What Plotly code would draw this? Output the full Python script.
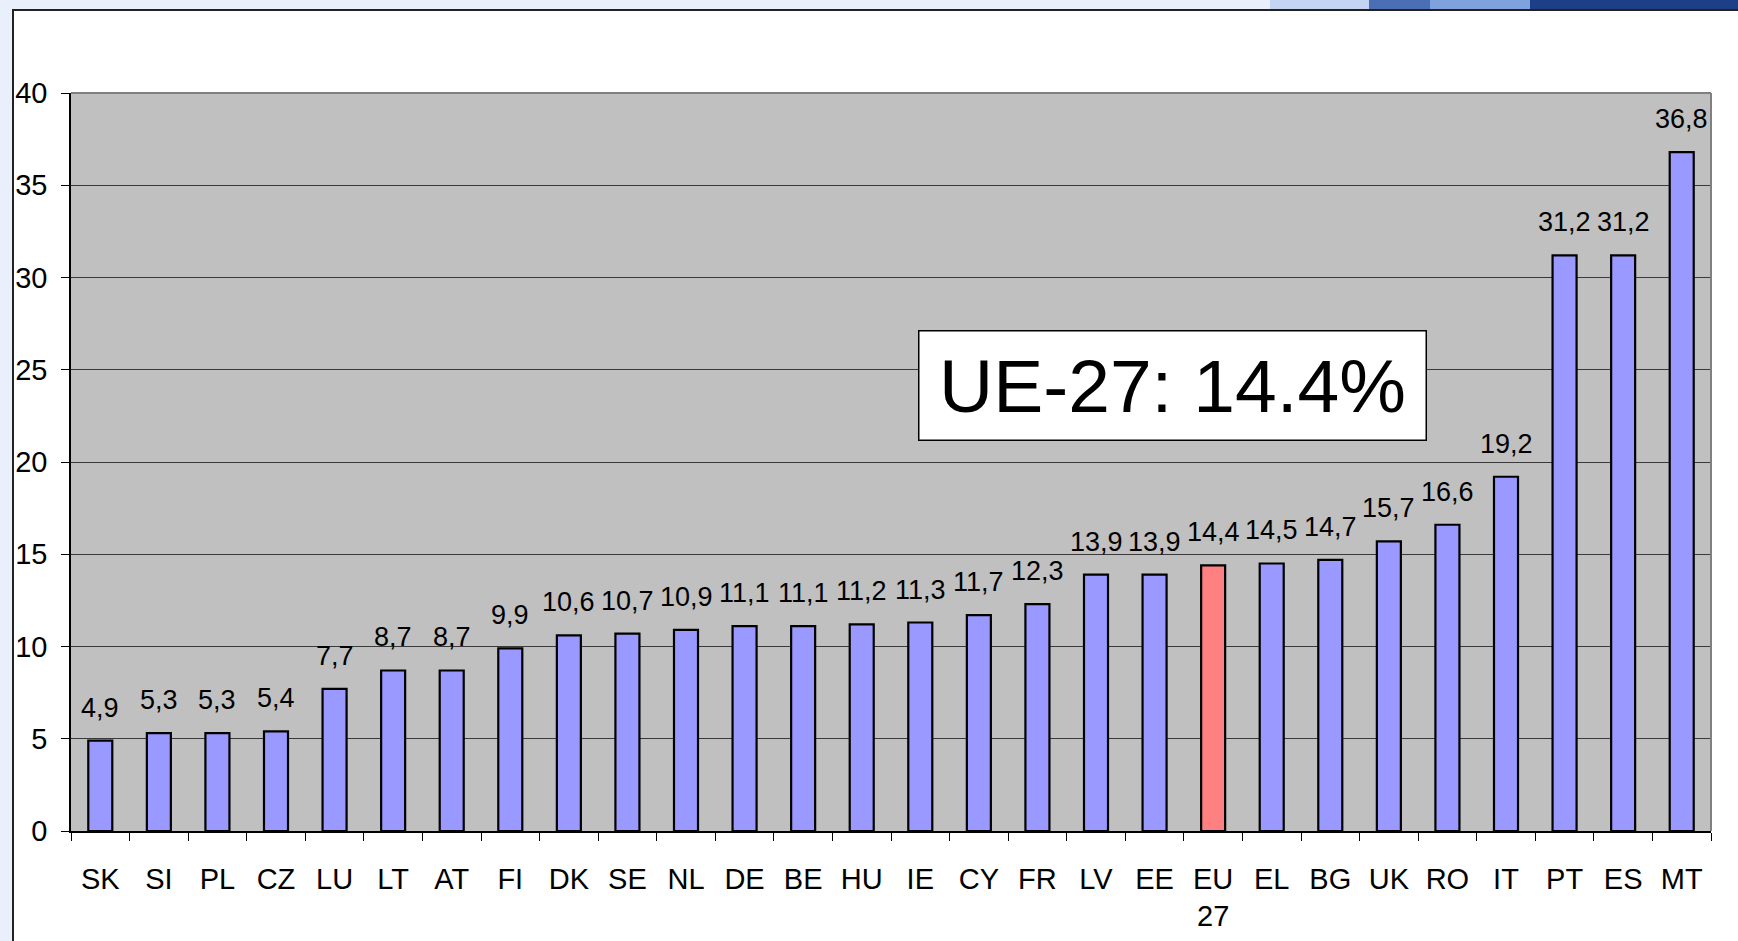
import plotly.graph_objects as go

countries = ["SK", "SI", "PL", "CZ", "LU", "LT", "AT", "FI", "DK", "SE", "NL", "DE", "BE", "HU",
             "IE", "CY", "FR", "LV", "EE", "EU<br>27", "EL", "BG", "UK", "RO", "IT", "PT", "ES", "MT"]
values = [4.9, 5.3, 5.3, 5.4, 7.7, 8.7, 8.7, 9.9, 10.6, 10.7, 10.9, 11.1, 11.1, 11.2,
          11.3, 11.7, 12.3, 13.9, 13.9, 14.4, 14.5, 14.7, 15.7, 16.6, 19.2, 31.2, 31.2, 36.8]
highlight = "EU<br>27"
y_ticks = [0, 5, 10, 15, 20, 25, 30, 35, 40]
box_text = "UE-27: 14.4%"

FONT = "Liberation Sans, Arial, sans-serif"
W, H = 1738, 941
L, R, T, B = 71, 27, 93, 110
pw, ph = W - L - R, H - T - B

def px_x(p):
    return (p - L) / pw

def px_y(p):
    return (H - B - p) / ph

colors = ["#FF8080" if c == highlight else "#9999FF" for c in countries]

fig = go.Figure()
fig.add_trace(go.Bar(
    x=countries, y=values,
    marker=dict(color=colors, line=dict(color="black", width=2.2)),
    hoverinfo="x+y",
))

annotations = []
for c, v in zip(countries, values):
    annotations.append(dict(
        x=c, y=v, xref="x", yref="y", text=f"{v:.1f}".replace(".", ","),
        showarrow=False, yanchor="bottom", yshift=16,
        font=dict(family=FONT, size=27, color="black"),
    ))
annotations.append(dict(
    x=18.30, y=24.12, xref="x", yref="y", text=box_text, showarrow=False,
    font=dict(family=FONT, size=75, color="black"),
    bgcolor="white", bordercolor="black", borderwidth=1.5,
    width=506, height=108, borderpad=0,
))

shapes = [
    # white panel
    dict(type="rect", xref="paper", yref="paper", layer="below",
         x0=px_x(13), x1=px_x(1760), y0=px_y(960), y1=px_y(10),
         fillcolor="white", line=dict(color="#222222", width=2)),
    # plot area background (grey)
    dict(type="rect", xref="paper", yref="paper", layer="below",
         x0=0, x1=1, y0=0, y1=1,
         fillcolor="#C0C0C0", line=dict(width=0)),
    # top-right decoration
    dict(type="rect", xref="paper", yref="paper", layer="below",
         x0=px_x(1270), x1=px_x(1369), y0=px_y(9), y1=px_y(-2),
         fillcolor="#c3d5f3", line=dict(width=0)),
    dict(type="rect", xref="paper", yref="paper", layer="below",
         x0=px_x(1369), x1=px_x(1430), y0=px_y(9), y1=px_y(-2),
         fillcolor="#4a6fb5", line=dict(width=0)),
    dict(type="rect", xref="paper", yref="paper", layer="below",
         x0=px_x(1430), x1=px_x(1530), y0=px_y(9), y1=px_y(-2),
         fillcolor="#7fa2de", line=dict(width=0)),
    dict(type="rect", xref="paper", yref="paper", layer="below",
         x0=px_x(1530), x1=px_x(1740), y0=px_y(9), y1=px_y(-2),
         fillcolor="#1d3f88", line=dict(width=0)),
    # grey top & right borders of plot area
    dict(type="line", xref="paper", yref="paper", x0=0, x1=1, y0=1, y1=1,
         line=dict(color="#808080", width=2)),
    dict(type="line", xref="paper", yref="paper", x0=1, x1=1, y0=0, y1=1,
         line=dict(color="#808080", width=2)),
]

fig.update_layout(
    template="none",
    width=W, height=H, autosize=False,
    margin=dict(l=L, r=R, t=T, b=B, pad=0),
    paper_bgcolor="#e9f0fb",
    plot_bgcolor="rgba(0,0,0,0)",
    showlegend=False,
    bargap=0.59,
    font=dict(family=FONT, color="black"),
    annotations=annotations,
    shapes=shapes,
    xaxis=dict(
        type="category", tickson="boundaries", ticks="outside", ticklen=8,
        tickcolor="black", tickwidth=1, showline=True, linecolor="black", linewidth=1.5,
        showgrid=False, tickfont=dict(family=FONT, size=29, color="black"),
        ticklabelstandoff=21, automargin=False, fixedrange=True,
    ),
    yaxis=dict(
        range=[0, 40], tickvals=y_ticks, ticks="outside", ticklen=8,
        tickcolor="black", tickwidth=1, showline=True, linecolor="black", linewidth=1.5,
        showgrid=True, gridcolor="#3a3a3a", gridwidth=1, zeroline=False,
        tickfont=dict(family=FONT, size=29, color="black"),
        ticklabelstandoff=8, automargin=False, fixedrange=True,
    ),
)

fig.write_html(
    "out.html",
    config={"displayModeBar": False},
    post_script="document.body.style.margin='0';document.body.style.overflow='hidden';",
)
